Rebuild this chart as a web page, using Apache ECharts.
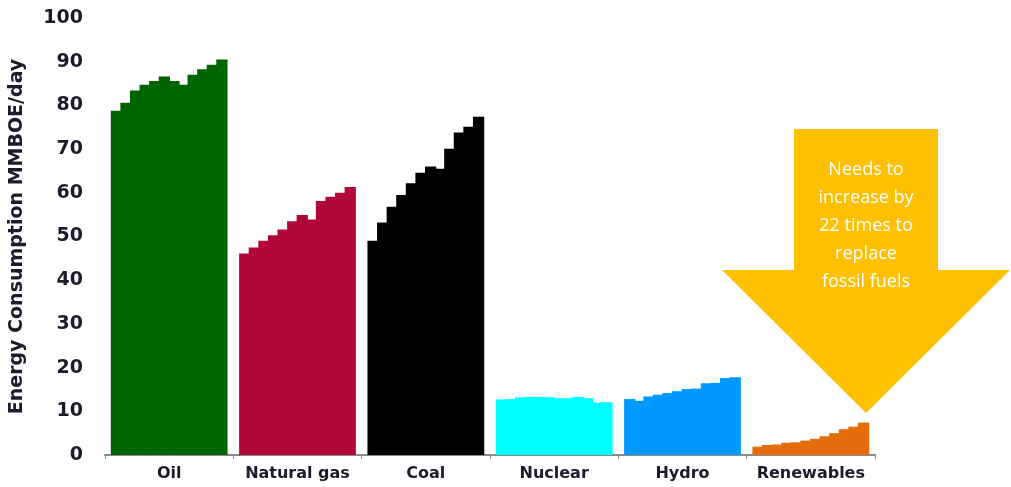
<!DOCTYPE html>
<html>
<head>
<meta charset="utf-8">
<script src="https://cdn.jsdelivr.net/npm/echarts@6/dist/echarts.min.js"></script>
<style>
  html, body { margin: 0; padding: 0; background: #fff; }
  #main { width: 1011px; height: 487px; }
</style>
</head>
<body>
<div id="main"></div>
<script>
// fuel categories, 12 yearly bars each
const fuels = ['Oil', 'Natural gas', 'Coal', 'Nuclear', 'Hydro', 'Renewables']
const fuelColors = ['#006400', '#B20838', '#000000', '#00FFFF', '#0099FF', '#E46C0A']

const oil = [78.8, 80.6, 83.4, 84.7, 85.6, 86.6, 85.6, 84.7, 87.0, 88.3, 89.3, 90.5]
const naturalGas = [46.1, 47.5, 49.0, 50.3, 51.6, 53.5, 54.9, 53.9, 58.1, 59.1, 60.0, 61.3]
const coal = [49.0, 53.2, 56.8, 59.5, 62.2, 64.6, 66.0, 65.5, 70.1, 73.8, 75.1, 77.4]
const nuclear = [12.7, 12.8, 13.2, 13.3, 13.3, 13.2, 13.0, 13.0, 13.3, 13.0, 12.0, 12.1]
const hydro = [12.8, 12.4, 13.4, 13.8, 14.2, 14.6, 15.1, 15.2, 16.4, 16.5, 17.6, 17.8]
const renewables = [1.9, 2.3, 2.4, 2.8, 2.9, 3.3, 3.7, 4.3, 5.0, 5.9, 6.5, 7.4]

const yTicks = [0, 10, 20, 30, 40, 50, 60, 70, 80, 90, 100]
const arrowText = ['Needs to', 'increase by', '22 times to', 'replace', 'fossil fuels']

const allValues = [oil, naturalGas, coal, nuclear, hydro, renewables]

let myChart = echarts.init(document.getElementById('main'))

// one series per year, each bar coloured by its fuel
let series = []
for (let i = 0; i < oil.length; i++) {
  series.push({
    type: 'bar',
    barGap: '-15%', // overlap so no seams show between years
    barCategoryGap: '9%',
    data: allValues.map((vals, k) => ({
      value: vals[i],
      itemStyle: { color: fuelColors[k] },
    })),
  })
}

let option = {
  animation: false,
  grid: { left: 104, right: 136, top: 18, bottom: 32 },
  xAxis: {
    type: 'category',
    data: fuels,
    axisLine: { lineStyle: { color: '#8c8c8c', width: 2 } },
    axisTick: { show: true, length: 4, lineStyle: { color: '#8c8c8c' } },
    axisLabel: {
      interval: 0,
      margin: 11,
      color: '#1b1b2b',
      fontFamily: 'DejaVu Sans',
      fontWeight: 'bold',
      fontSize: 16,
    },
  },
  yAxis: {
    type: 'value',
    min: yTicks[0],
    max: yTicks[yTicks.length - 1],
    interval: 10,
    splitLine: { show: false },
    axisLine: { show: false },
    axisTick: { show: false },
    axisLabel: {
      margin: 22,
      color: '#1b1b2b',
      fontFamily: 'DejaVu Sans',
      fontWeight: 'bold',
      fontSize: 19,
    },
    name: 'Energy Consumption MMBOE/day',
    nameLocation: 'middle',
    nameGap: 78,
    nameTextStyle: {
      color: '#1b1b2b',
      fontFamily: 'DejaVu Sans',
      fontWeight: 'bold',
      fontSize: 19,
    },
  },
  series: series,
  graphic: [
    {
      type: 'polygon',
      shape: {
        points: [[794, 129], [938, 129], [938, 270], [1010, 270], [866, 413],
          [722, 270], [794, 270]],
      },
      style: { fill: '#FFC000' },
    },
    {
      type: 'text',
      x: 866,
      y: 156,
      z: 10,
      style: {
        text: arrowText.join('\n'),
        fill: '#ffffff',
        fontFamily: 'Open Sans',
        fontSize: 18,
        lineHeight: 28,
        align: 'center',
      },
    },
  ],
}

myChart.setOption(option)
</script>
</body>
</html>
